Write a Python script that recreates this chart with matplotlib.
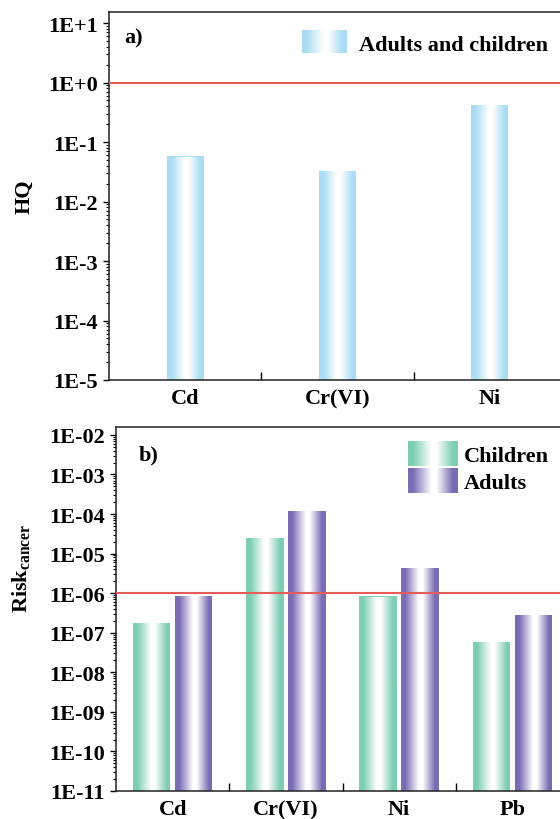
import numpy as np
import matplotlib
matplotlib.use("Agg")
import matplotlib.pyplot as plt
from matplotlib.colors import LinearSegmentedColormap
from matplotlib.legend_handler import HandlerBase
from matplotlib.image import BboxImage
from matplotlib.transforms import Bbox, TransformedBbox
from matplotlib.patches import Rectangle
from matplotlib.ticker import FixedLocator, LogLocator, NullFormatter

# data
hq_metals = ['Cd', 'Cr(VI)', 'Ni']
hq_values = [0.058, 0.0326, 0.419]
hq_ticks = [1e-5, 1e-4, 1e-3, 1e-2, 1e-1, 1e0, 1e1]
hq_tick_labels = ['1E-5', '1E-4', '1E-3', '1E-2', '1E-1', '1E+0', '1E+1']

risk_metals = ['Cd', 'Cr(VI)', 'Ni', 'Pb']
risk_children = [1.79e-7, 2.5e-5, 8.4e-7, 5.9e-8]
risk_adults = [8.6e-7, 1.2e-4, 4.4e-6, 2.85e-7]
risk_ticks = [1e-11, 1e-10, 1e-9, 1e-8, 1e-7, 1e-6, 1e-5, 1e-4, 1e-3, 1e-2]
risk_tick_labels = ['1E-11', '1E-10', '1E-09', '1E-08', '1E-07', '1E-06',
                    '1E-05', '1E-04', '1E-03', '1E-02']

BLUE = '#a9dcf4'
GREEN = '#7dcdb4'
PURPLE = '#7a6cb4'
RED = '#e85b5b'

plt.rcParams['font.family'] = ['Liberation Serif', 'DejaVu Serif']
plt.rcParams['font.weight'] = 'bold'
plt.rcParams['axes.labelweight'] = 'bold'
plt.rcParams['font.size'] = 16
plt.rcParams['mathtext.fontset'] = 'custom'
plt.rcParams['mathtext.rm'] = 'Liberation Serif:bold'
plt.rcParams['mathtext.bf'] = 'Liberation Serif:bold'
plt.rcParams['axes.linewidth'] = 1.1
plt.rcParams['axes.edgecolor'] = '#222222'

GRAD = np.linspace(0, 1, 256).reshape(1, -1)


def gradient_cmap(color):
    return LinearSegmentedColormap.from_list(
        'g', [(0, color), (0.1, color), (0.47, 'white'), (0.57, 'white'),
              (0.9, color), (1, color)])


def fill_bars(ax, bars, cmap):
    for b in bars:
        x0, y0 = b.get_x(), b.get_y()
        w, h = b.get_width(), b.get_height()
        im = ax.imshow(GRAD, cmap=cmap, extent=(x0, x0 + w, y0, y0 + h),
                       aspect='auto', interpolation='bilinear', zorder=2,
                       origin='lower')
        im.set_clip_path(b)


class GradientHandler(HandlerBase):
    def __init__(self, cmap):
        super().__init__()
        self.cmap = cmap

    def create_artists(self, legend, orig_handle, xdescent, ydescent,
                       width, height, fontsize, trans):
        bbox = TransformedBbox(Bbox.from_bounds(-xdescent, -ydescent, width, height), trans)
        img = BboxImage(bbox, cmap=self.cmap, interpolation='bilinear')
        img.set_data(GRAD)
        return [img]


def style_axis(ax, n, ticks, labels, ybot, ytop):
    ax.set_yscale('log')
    ax.set_ylim(ybot, ytop)
    ax.set_xlim(0.5, n + 0.5)
    ax.yaxis.set_major_locator(FixedLocator(ticks))
    ax.set_yticklabels(labels)
    ax.yaxis.set_minor_locator(LogLocator(base=10, subs=np.arange(2, 10), numticks=20))
    ax.yaxis.set_minor_formatter(NullFormatter())
    ax.tick_params(axis='y', which='major', direction='out', length=4, width=1, pad=4)
    ax.tick_params(axis='y', which='minor', direction='out', length=2, width=0.8)
    ax.xaxis.set_minor_locator(FixedLocator(np.arange(1.5, n, 1.0)))
    ax.tick_params(axis='x', which='major', length=0, pad=6)
    ax.tick_params(axis='x', which='minor', direction='in', length=6, width=1)
    ax.spines['right'].set_visible(False)


fig = plt.figure(figsize=(5.6, 8.2), dpi=100)

# panel a
ax1 = fig.add_axes([109 / 560, 1 - 381 / 820, 457 / 560, 368 / 820])
x1 = np.arange(1, len(hq_metals) + 1)
ybot1 = 1e-5
bars = ax1.bar(x1, np.array(hq_values) - ybot1, bottom=ybot1, width=0.243,
               color=BLUE, zorder=1)
cm_blue = gradient_cmap(BLUE)
fill_bars(ax1, bars, cm_blue)
ax1.axhline(1.0, color=RED, lw=1.5, zorder=3)
style_axis(ax1, len(hq_metals), hq_ticks, hq_tick_labels, ybot1, 10 ** 1.185)
ax1.set_xticks(x1)
ax1.set_xticklabels(hq_metals)
ax1.set_ylabel('HQ')
ax1.yaxis.set_label_coords(-0.164, 0.5)
ax1.text(0.033, 0.957, 'a)', transform=ax1.transAxes, va='top', ha='left')
h1 = Rectangle((0, 0), 1, 1)
ax1.legend([h1], ['Adults and children'], handler_map={h1: GradientHandler(cm_blue)},
           loc='upper left', bbox_to_anchor=(302 / 560, 1 - 32 / 820),
           bbox_transform=fig.transFigure, frameon=False, borderpad=0,
           borderaxespad=0, handlelength=2.0, handleheight=1.15, handletextpad=0.55)

# panel b
ax2 = fig.add_axes([116 / 560, 1 - 792 / 820, 453 / 560, 364 / 820])
x2 = np.arange(1, len(risk_metals) + 1)
ybot2 = 1e-11
bw = 0.33
off = 0.185
cm_green = gradient_cmap(GREEN)
cm_purple = gradient_cmap(PURPLE)
bars_c = ax2.bar(x2 - off, np.array(risk_children) - ybot2, bottom=ybot2, width=bw,
                 color=GREEN, zorder=1)
bars_a = ax2.bar(x2 + off, np.array(risk_adults) - ybot2, bottom=ybot2, width=bw,
                 color=PURPLE, zorder=1)
fill_bars(ax2, bars_c, cm_green)
fill_bars(ax2, bars_a, cm_purple)
ax2.axhline(1e-6, color=RED, lw=1.5, zorder=3)
style_axis(ax2, len(risk_metals), risk_ticks, risk_tick_labels, ybot2, 10 ** -1.8)
ax2.set_xticks(x2)
ax2.set_xticklabels(risk_metals)
ax2.set_ylabel(r'$\mathbf{Risk}_{\mathbf{cancer}}$')
ax2.yaxis.set_label_coords(-0.183, 0.613)
ax2.text(0.049, 0.953, 'b)', transform=ax2.transAxes, va='top', ha='left')
hc = Rectangle((0, 0), 1, 1)
ha = Rectangle((0, 0), 1, 1)
ax2.legend([hc, ha], ['Children', 'Adults'],
           handler_map={hc: GradientHandler(cm_green), ha: GradientHandler(cm_purple)},
           loc='upper left', bbox_to_anchor=(408 / 560, 1 - 443 / 820),
           bbox_transform=fig.transFigure, frameon=False, borderpad=0,
           borderaxespad=0, handlelength=2.25, handleheight=1.29,
           handletextpad=0.27, labelspacing=0.1)

fig.savefig('out.png', dpi=100)
